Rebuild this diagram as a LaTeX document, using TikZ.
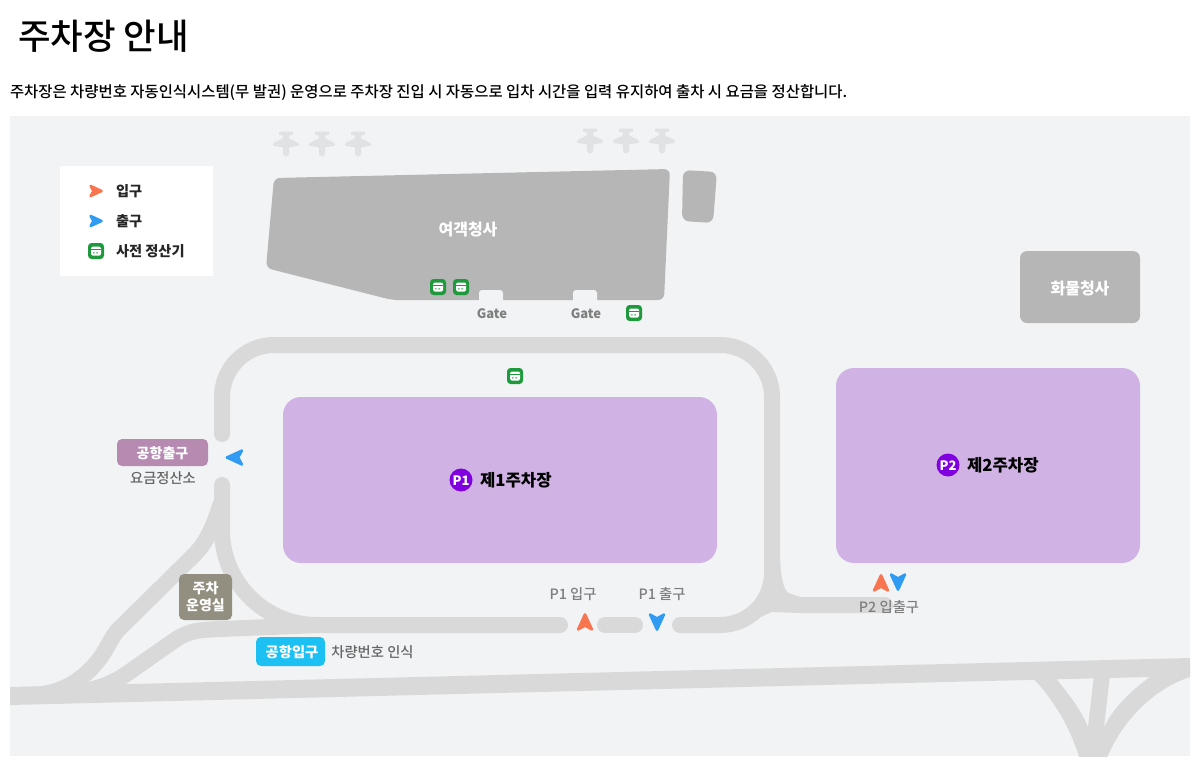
\documentclass[tikz,border=0pt]{standalone}
\usepackage{fontspec}
\setmainfont{Noto Sans CJK KR}
\newfontfamily\krm{Noto Sans CJK KR Medium}
\definecolor{bgc}{HTML}{F1F3F5}
\definecolor{roadc}{HTML}{D9D9D9}
\definecolor{bldg}{HTML}{B6B6B6}
\definecolor{park}{HTML}{D0B3E4}
\definecolor{pdot}{HTML}{8000E0}
\definecolor{inc}{HTML}{F9754F}
\definecolor{outc}{HTML}{2F9BF2}
\definecolor{kiosk}{HTML}{1E9A3C}
\definecolor{planec}{HTML}{E1E2E4}
\definecolor{graytxt}{HTML}{7F7F7F}
\definecolor{tagexit}{HTML}{B78AB2}
\definecolor{tagops}{HTML}{928E80}
\definecolor{tagent}{HTML}{1CC0F3}
\newcommand{\fs}[1]{\fontsize{#1}{#1}\selectfont}
\tikzset{
  x=1pt,y=-1pt,
  road/.style={draw=roadc,line width=16pt,line cap=round},
  roadf/.style={fill=roadc,draw=none},
  lbl/.style={inner sep=0pt,outer sep=0pt,anchor=center},
  wlbl/.style={lbl,text=white,font=\bfseries\fs{14}},
  glbl/.style={lbl,text=graytxt,font=\krm\fs{14.3}},
  arrowmark/.pic={\path[pic actions,line width=2.6pt,line join=round] (0,-7.6)--(6.9,7.4)--(0,3.6)--(-6.9,7.4)--cycle;},
  kioskmark/.pic={
    \fill[kiosk,rounded corners=3.5pt] (-8,-8) rectangle (8,8);
    \fill[white,rounded corners=1.5pt] (-5,-4.5) rectangle (5,4.5);
    \fill[kiosk] (-5,-1.6) rectangle (5,-0.6);
    \fill[kiosk] (-3,1.4) rectangle (-1.4,2.4) (0.4,1.4) rectangle (2,2.4);
  },
  planemark/.pic={\fill[planec,rounded corners=1pt] (-3,-12.5)--(-7,-12.5)--(-7,-8.8)--(-3,-8.8)--(-3,-5.5)--(-12.8,-1)--(-12.8,2)--(-3,3.2)--(-3,11)--(0,12.8)--(3,11)--(3,3.2)--(12.8,2)--(12.8,-1)--(3,-5.5)--(3,-8.8)--(7,-8.8)--(7,-12.5)--(3,-12.5)--cycle;},
}
\begin{document}
\begin{tikzpicture}
\useasboundingbox (0,0) rectangle (1198,765);
% background
\fill[bgc] (10,116) rectangle (1190,756);
% roads
\begin{scope}
\clip (10,116) rectangle (1190,756);
\fill[roadf] (10,687)--(1190,658)--(1190,676)--(10,705)--cycle;
\fill[roadf] (1030,675) .. controls (1050,695) and (1070,725) .. (1080,760) -- (1100,760) -- (1088,727) .. controls (1080,708) and (1067,692) .. (1053,675) -- cycle;
\fill[roadf] (1157,672) .. controls (1132,689) and (1114,707) .. (1104,727) -- (1085,760) -- (1106,760) .. controls (1120,725) and (1150,690) .. (1190,677) -- (1190,665) -- cycle;
\fill[roadf] (1094,675)--(1110,675)--(1104,727)--(1106,760)--(1080,760)--(1088,727)--cycle;
\draw[road,line cap=butt] (221,503) .. controls (215,522) and (208,541) .. (194,555) -- (118,630) .. controls (108,640) and (104,665) .. (70,685) .. controls (55,693) and (40,696) .. (10,696);
\draw[road,line cap=butt] (320,625) -- (220,629) .. controls (200,630) and (190,630) .. (175,640) -- (125,675) .. controls (105,688) and (90,690) .. (60,696);
\end{scope}
\draw[road,rounded corners=52pt] (222,434)--(222,345)--(772,345)--(772,625)--(680,625);
\draw[road,rounded corners=95pt] (222,485)--(222,625)--(560,625);
\draw[road] (605,625)--(635,625);
\draw[road] (772,560) .. controls (774,590) and (778,604) .. (800,605) -- (885,605);
\fill[roadf] (745,624)--(772,612)--(800,613)--(800,597)--(780,590)--cycle;
% planes
\foreach \px in {286,322,358} \pic at (\px,144) {planemark};
\foreach \px in {590,626,662} \pic at (\px,141) {planemark};
% terminal
\fill[bldg,rounded corners=6pt] (274,178)--(670,169)--(664,300)--(392,300)--(266,268)--cycle;
\fill[bldg,rounded corners=7pt] (683,170)--(717,172)--(713,223)--(682,221)--cycle;
\fill[bgc,rounded corners=3pt] (479,290) rectangle (503,304);
\fill[bgc] (479,300) rectangle (503,304);
\fill[bgc,rounded corners=3pt] (573,290) rectangle (597,304);
\fill[bgc] (573,300) rectangle (597,304);
\fill[bldg,rounded corners=7pt] (1020,251) rectangle (1140,323);
% parking
\fill[park,rounded corners=18pt] (283,397) rectangle (717,563);
\fill[park,rounded corners=18pt] (836,368) rectangle (1140,563);
% legend
\fill[white] (60,166) rectangle (213,276);
\pic[fill=inc,draw=inc,rotate=-90,scale=.72] at (96,191) {arrowmark};
\pic[fill=outc,draw=outc,rotate=-90,scale=.72] at (96,221) {arrowmark};
\pic at (96,251) {kioskmark};
\node[lbl,anchor=west,font=\bfseries\fs{14.2},text=black!85] (legIn) at (116,191) {입구};
\node[lbl,anchor=west,font=\bfseries\fs{14.2},text=black!85] (legOut) at (116,221) {출구};
\node[lbl,anchor=west,font=\bfseries\fs{14.2},text=black!85] (legKiosk) at (116,251) {사전 정산기};
% kiosks
\pic at (438,287) {kioskmark};
\pic at (461,287) {kioskmark};
\pic at (634,313) {kioskmark};
\pic at (515,376) {kioskmark};
% title
\node[lbl,anchor=west,font=\krm\fs{35.4},text=black] (title) at (18,36) {주차장 안내};
\node[lbl,anchor=west,font=\krm\fs{15.42},text=black] (sub) at (10,92.5) {주차장은 차량번호 자동인식시스템(무 발권) 운영으로 주차장 진입 시 자동으로 입차 시간을 입력 유지하여 출차 시 요금을 정산합니다.};
% building labels
\node[wlbl,font=\bfseries\fs{16}] (term) at (468,230) {여객청사};
\node[wlbl,font=\bfseries\fs{16}] (cargo) at (1080,288) {화물청사};
\node[glbl,font=\bfseries\fs{13}] (g1) at (492,313.5) {Gate};
\node[glbl,font=\bfseries\fs{13}] (g2) at (586,313.5) {Gate};
% parking labels
\fill[pdot] (461,480) circle (11.5);
\node[lbl,text=white,font=\bfseries\fs{13}] (p1a) at (461,480.5) {P1};
\node[lbl,anchor=west,font=\bfseries\fs{16.7},text=black] (p1b) at (480,480.5) {제1주차장};
\fill[pdot] (948,465) circle (11.5);
\node[lbl,text=white,font=\bfseries\fs{13}] (p2a) at (948,465.5) {P2};
\node[lbl,anchor=west,font=\bfseries\fs{16.7},text=black] (p2b) at (967,465.5) {제2주차장};
% tags
\fill[tagexit,rounded corners=5pt] (117,439) rectangle (208,466);
\node[wlbl] (exitT) at (162.5,453) {공항출구};
\node[glbl,text=black!60] (fee) at (163,478.5) {요금정산소};
\fill[tagops,rounded corners=5pt] (179,574) rectangle (232,620);
\node[wlbl,align=center] (ops) at (205.5,597) {주차\\[3pt]운영실};
\fill[tagent,rounded corners=5pt] (256,637) rectangle (325,666);
\node[wlbl,font=\bfseries\fs{14.3}] (entT) at (292,652.5) {공항입구};
\node[glbl,text=black!60] (plate) at (372.5,652.5) {차량번호 인식};
% arrows
\pic[fill=outc,draw=outc,rotate=90] at (234.5,457.5) {arrowmark};
\pic[fill=inc,draw=inc] at (585,622) {arrowmark};
\pic[fill=outc,draw=outc,rotate=180] at (657,622) {arrowmark};
\pic[fill=inc,draw=inc] at (881,583) {arrowmark};
\pic[fill=outc,draw=outc,rotate=180] at (898,582) {arrowmark};
\node[glbl] (lp1i) at (573,594.5) {P1 입구};
\node[glbl] (lp1o) at (662,594.5) {P1 출구};
\node[glbl] (lp2) at (889,607.5) {P2 입출구};
\end{tikzpicture}
\end{document}
